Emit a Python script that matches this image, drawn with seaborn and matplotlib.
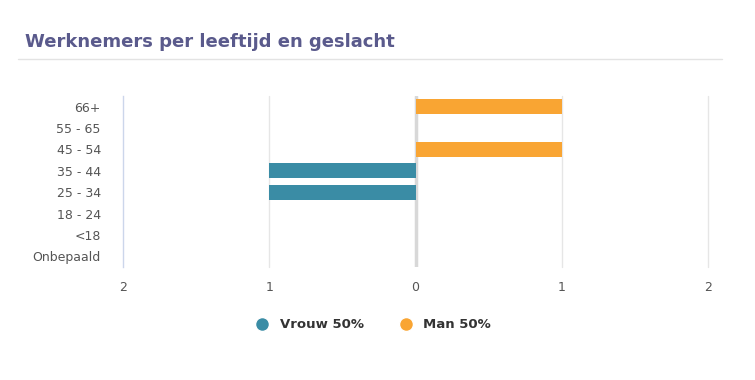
import matplotlib
matplotlib.use("Agg")
import matplotlib.pyplot as plt
import seaborn as sns
import pandas as pd
from matplotlib.lines import Line2D

categories = ["66+", "55 - 65", "45 - 54", "35 - 44", "25 - 34", "18 - 24", "<18", "Onbepaald"]
vrouw = [0, 0, 0, 1, 1, 0, 0, 0]
man = [1, 0, 1, 0, 0, 0, 0, 0]
series_names = ["Vrouw 50%", "Man 50%"]
colors = ["#3a8ca5", "#f9a533"]
x_ticks = [-2, -1, 0, 1, 2]
x_tick_labels = ["2", "1", "0", "1", "2"]
title = "Werknemers per leeftijd en geslacht"

rows = []
for c, v in zip(categories, vrouw):
    rows.append({"cat": c, "val": -v, "series": series_names[0]})
for c, m in zip(categories, man):
    rows.append({"cat": c, "val": m, "series": series_names[1]})
df = pd.DataFrame(rows)

sns.set_style("white")
plt.rcParams["font.family"] = ["DejaVu Sans"]

fig = plt.figure(figsize=(7.55, 3.8), dpi=100)
ax = fig.add_axes([123 / 755, 1 - 267 / 380, (708 - 123) / 755, (267 - 96) / 380])

for xv in [-1, 1, 2]:
    ax.axvline(xv, color="#e6e6e6", lw=1, zorder=0, clip_on=False)
ax.axvline(0, color="#d8d8d8", lw=2.5, zorder=0)

sns.barplot(data=df, y="cat", x="val", hue="series", order=categories,
            hue_order=series_names, palette=colors, dodge=False, width=0.7,
            orient="h", ax=ax, legend=False, zorder=2, linewidth=0, saturation=1)

ax.set_xlim(-2, 2)
ax.set_ylim(len(categories) - 0.5, -0.5)
ax.set_xticks(x_ticks)
ax.set_xticklabels(x_tick_labels, fontsize=9, color="#555555")
ax.tick_params(axis="y", labelsize=9, labelcolor="#555555", length=0, pad=16)
ax.tick_params(axis="x", length=0, pad=10)
ax.set_xlabel("")
ax.set_ylabel("")
for s in ["top", "right", "bottom"]:
    ax.spines[s].set_visible(False)
ax.spines["left"].set_color("#ccd6eb")
ax.spines["left"].set_linewidth(1)

fig.text(25 / 755, 1 - 42 / 380, title, fontsize=13, fontweight="bold",
         color="#5a5a8c", va="center", ha="left")
fig.add_artist(Line2D([18 / 755, 722 / 755], [1 - 59 / 380, 1 - 59 / 380],
                      color="#e3e3e3", lw=1))

handles = [Line2D([0], [0], marker="o", color="w", markerfacecolor=c, markersize=10)
           for c in colors]
leg = fig.legend(handles, series_names, loc="center", bbox_to_anchor=(370 / 755, 1 - 325 / 380),
                 ncol=2, frameon=False, handletextpad=0.3, columnspacing=2.2,
                 prop={"weight": "bold", "size": 9.5})
for t in leg.get_texts():
    t.set_color("#333333")

fig.savefig("out.png", dpi=100)
